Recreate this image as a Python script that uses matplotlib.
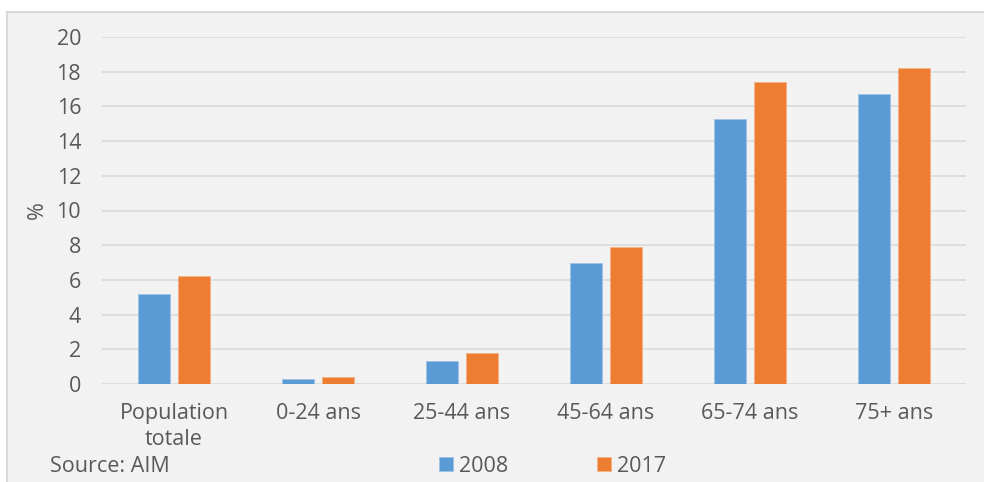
import numpy as np
import matplotlib
matplotlib.use('Agg')
import matplotlib.pyplot as plt
from matplotlib.patches import Rectangle

categories = ["Population\ntotale", "0-24 ans", "25-44 ans", "45-64 ans", "65-74 ans", "75+ ans"]
values_2008 = [5.2, 0.3, 1.3, 7.0, 15.3, 16.7]
values_2017 = [6.2, 0.4, 1.8, 7.9, 17.4, 18.2]
series_names = ["2008", "2017"]
yticks = list(range(0, 21, 2))

blue = '#5B9BD5'
orange = '#ED7D31'
txt = '#595959'
grid = '#D9D9D9'
fs = 15.5

plt.rcParams['font.family'] = ['Open Sans', 'DejaVu Sans']

fig = plt.figure(figsize=(9.84, 4.82), dpi=100)
fig.patch.set_facecolor('white')

# gray chart area with thin border
fig.patches.append(Rectangle((7 / 984, -0.01), 1, 1.01 - 12 / 482, transform=fig.transFigure,
                             facecolor='#F2F2F2', edgecolor=grid, linewidth=1.5, zorder=-10))

ax = fig.add_axes([102 / 984, 98 / 482, 864 / 984, 347 / 482])
ax.set_facecolor('none')
ax.set_zorder(2)

x = np.arange(len(categories))
w = 0.225
off = 0.14
b1 = ax.bar(x - off, values_2008, w, color=blue, edgecolor='#9DC3E6', linewidth=0.6,
            label=series_names[0], zorder=3)
b2 = ax.bar(x + off, values_2017, w, color=orange, edgecolor='#F4B183', linewidth=0.6,
            label=series_names[1], zorder=3)

ax.set_xlim(-0.5, len(categories) - 0.5)
ax.set_ylim(0, 20)
ax.set_yticks(yticks)
ax.set_xticks(x)
ax.set_xticklabels(categories)
ax.tick_params(axis='both', length=0, labelsize=fs, colors=txt)
ax.tick_params(axis='y', pad=15)
ax.tick_params(axis='x', pad=14)
for lab in ax.get_xticklabels():
    lab.set_linespacing(1.3)
ax.yaxis.grid(True, color=grid, linewidth=1.2, zorder=0)
ax.set_axisbelow(True)
for s in ax.spines.values():
    s.set_visible(False)

ax.set_ylabel('%', fontsize=fs, color=txt, labelpad=6)

fig.text(50 / 984, 1 - 466 / 482, 'Source: AIM', fontsize=fs, color=txt, va='center', ha='left')

leg = fig.legend(handles=[b1, b2], labels=series_names, ncol=2, loc='center left',
                 bbox_to_anchor=(439 / 984, 1 - 466 / 482), frameon=False,
                 fontsize=fs, labelcolor=txt, handlelength=0.65, handleheight=0.65,
                 handletextpad=0.3, columnspacing=4.1, borderpad=0, borderaxespad=0)

fig.savefig('out.png', dpi=100)
